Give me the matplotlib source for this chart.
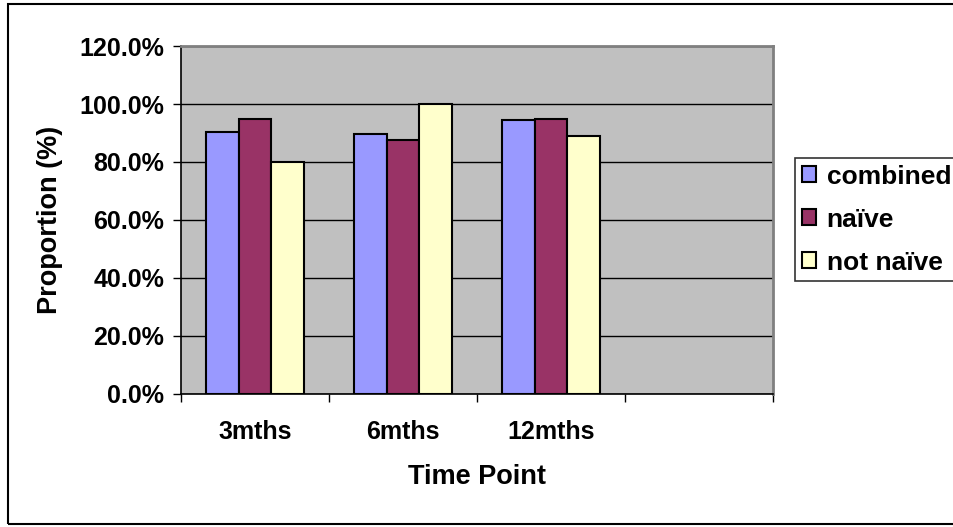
import matplotlib.pyplot as plt
import numpy as np
from matplotlib.patches import Rectangle
from matplotlib.ticker import FuncFormatter

plt.rcParams['font.family'] = ['Liberation Sans', 'DejaVu Sans']
plt.rcParams['font.weight'] = 'bold'

time_points = ['3mths', '6mths', '12mths']
combined = [90.3, 89.5, 94.5]
naive = [95.0, 87.5, 95.0]
not_naive = [80.0, 100.0, 88.9]

series = [('combined', combined, '#9999FF'),
          ('naïve', naive, '#993366'),
          ('not naïve', not_naive, '#FFFFCC')]

fig = plt.figure(figsize=(9.54, 5.27), dpi=100)
ax = fig.add_axes([0.1897, 0.2524, 0.6206, 0.6603])
ax.set_facecolor('#C0C0C0')

# four category slots, the last one left empty
n_slots = 4
bw = 1 / 4.5
x = np.arange(len(time_points)) + 0.5
for i, (name, vals, col) in enumerate(series):
    ax.bar(x + (i - 1) * bw, vals, bw, color=col, edgecolor='black',
           linewidth=1.5, label=name, zorder=3)

ax.set_xlim(0, n_slots)
ax.set_ylim(0, 120)
ax.set_yticks(np.arange(0, 121, 20))
ax.yaxis.set_major_formatter(FuncFormatter(lambda v, p: f'{v:.1f}%'))
ax.grid(axis='y', color='black', linewidth=1, zorder=1)

ax.set_xticks(x)
ax.set_xticklabels(time_points)
ax.set_xticks(np.arange(0, n_slots + 1), minor=True)
ax.tick_params(axis='x', which='major', length=0, pad=19)
ax.tick_params(axis='x', which='minor', length=6, width=1, direction='out')
ax.tick_params(axis='y', length=6, width=1, direction='out', pad=6)
ax.tick_params(labelsize=18)

for s in ['left', 'bottom']:
    ax.spines[s].set_color('black')
    ax.spines[s].set_linewidth(1.2)
for s in ['top', 'right']:
    ax.spines[s].set_color('#808080')
    ax.spines[s].set_linewidth(2)

ax.set_xlabel('Time Point', fontsize=19.5, fontweight='bold', labelpad=14)
ax.set_ylabel('Proportion (%)', fontsize=19.5, fontweight='bold', labelpad=12)

leg = ax.legend(loc='upper left', bbox_to_anchor=(795 / 954, 1 - 158 / 527),
                bbox_transform=fig.transFigure, fontsize=19, frameon=True,
                fancybox=False, edgecolor='black', handlelength=0.55,
                handleheight=0.55, handletextpad=0.4, labelspacing=0.72,
                borderpad=0.25, borderaxespad=0)
leg.get_frame().set_linewidth(1.2)

# chart border
fig.patches.append(Rectangle((8 / 954, 3 / 527), 1.0, 1 - 7 / 527,
                             transform=fig.transFigure, fill=False,
                             edgecolor='black', linewidth=1.5))

fig.savefig('out.png', dpi=100)
